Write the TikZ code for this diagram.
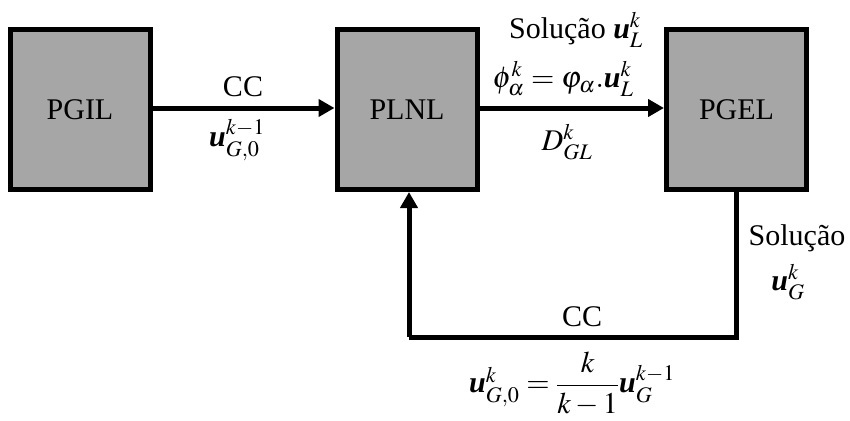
\documentclass[tikz,border=0pt]{standalone}
\usepackage{mathptmx}
\usepackage{amsmath}
\usepackage[no-math]{fontspec}
\setmainfont{Liberation Serif}
\usetikzlibrary{arrows.meta}

\definecolor{boxgray}{RGB}{166,166,166}
\newcommand{\bu}{\mbox{\bfseries\itshape u}}

\tikzset{
  block/.style={draw, fill=boxgray, line width=5pt, minimum width=140pt,
    minimum height=160pt, inner sep=0pt},
  flow/.style={line width=5pt, -{Triangle[length=16pt,width=17pt]}},
  lbl/.style={inner sep=0pt}
}

\begin{document}
\fontsize{30}{36}\selectfont
\begin{tikzpicture}[x=1pt, y=-1pt]
  \useasboundingbox (0,0) rectangle (850,420);
  % blocos
  \node[block] (pgil) at (80,109.5) {PGIL};
  \node[block] (plnl) at (407,109.5) {PLNL};
  \node[block] (pgel) at (736.5,109.5) {PGEL};
  % ligacoes
  \draw[flow] (pgil.east |- 0,108) -- (plnl.west |- 0,108);
  \draw[flow] (plnl.east |- 0,108) -- (pgel.west |- 0,108);
  \coordinate (loop) at (409,337);
  \draw[line width=5pt] (pgel.south) |- (loop);
  \draw[flow] (loop) -- (loop |- plnl.south);
  % textos
  \node[lbl] (cc1) at (243,87) {CC};
  \node[lbl] (u1) at (237,140) {$\bu^{k-1}_{G,0}$};
  \node[lbl] (sol1) at (576,30) {Solução $\bu^{k}_{L}$};
  \node[lbl] (phi) at (563,79) {$\phi^{k}_{\alpha}=\varphi_{\alpha}.\bu^{k}_{L}$};
  \node[lbl] (dgl) at (567,142) {$D^{k}_{GL}$};
  \node[lbl] (sol2) at (797,238) {Solução};
  \node[lbl] (u2) at (788,282) {$\bu^{k}_{G}$};
  \node[lbl] (cc2) at (582,317) {CC};
  \node[lbl] (ufrac) at (572,384) {$\bu^{k}_{G,0}=\dfrac{k}{k-1}\bu^{k-1}_{G}$};
\end{tikzpicture}
\end{document}
